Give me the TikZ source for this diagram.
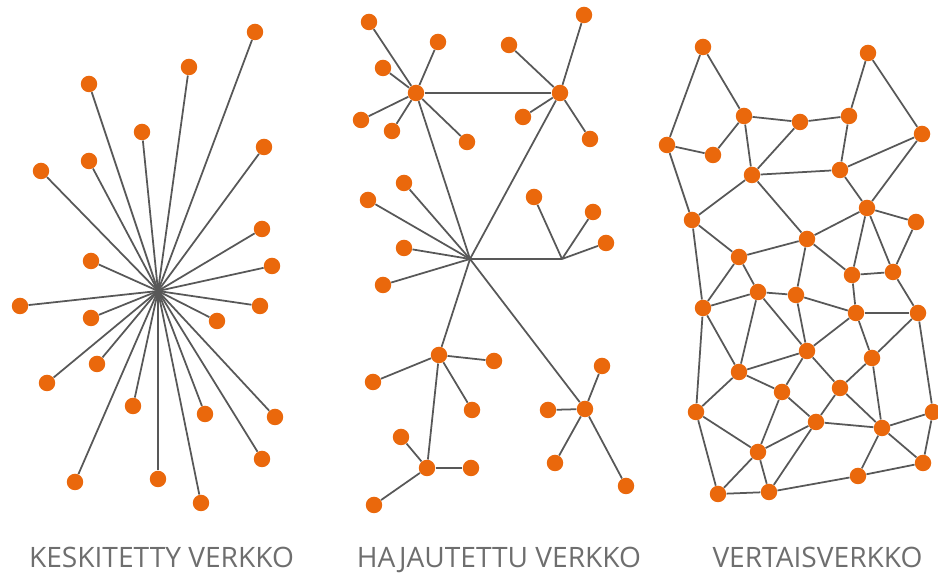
\documentclass[tikz,border=0pt]{standalone}
\usepackage{fontspec}
\setmainfont{Open Sans}
\definecolor{netorange}{RGB}{234,104,12}
\definecolor{netgray}{RGB}{88,88,88}
\definecolor{capgray}{RGB}{110,110,110}
\tikzset{
  netdot/.style={circle,fill=netorange,inner sep=0pt,minimum size=0.33cm},
  netline/.style={draw=netgray,line width=1pt},
  netlabel/.style={anchor=base,inner sep=0pt,text=capgray,
    font=\fontsize{16}{16}\selectfont}
}
\begin{document}
\begin{tikzpicture}[x=0.02cm,y=-0.02cm]
  \useasboundingbox (0,0) rectangle (938,573);
  % star: every node hangs on the one hub
  \coordinate (hub) at (158,291);
  \foreach \n/\x/\y in {1/255/32,2/189/67,3/89/84,4/142/132,5/264/147,
      6/89/161,7/41/171,8/262/229,9/91/261,10/272/266,11/20/306,
      12/91/318,13/260/306,14/217/321,15/97/364,16/47/383,17/133/406,
      18/205/414,19/275/417,20/262/459,21/75/482,22/158/479,23/201/503} {
    \node[netdot] (c\n) at (\x,\y) {};
    \draw[netline] (hub) -- (c\n);
  }
  % tree of small stars
  \node[netdot] (hA) at (416,93) {};
  \node[netdot] (hB) at (560,93) {};
  \coordinate (hC) at (470,259);
  \coordinate (hD) at (562,259);
  \node[netdot] (hE) at (439,355) {};
  \node[netdot] (hF) at (427,468) {};
  \node[netdot] (hG) at (585,409) {};
  \foreach \a/\b in {hA/hB,hA/hC,hB/hC,hC/hD,hC/hE,hE/hF,hC/hG}
    \draw[netline] (\a) -- (\b);
  \foreach \h/\n/\x/\y in {A/1/369/22,A/2/438/42,A/3/383/68,A/4/361/120,
      A/5/392/131,A/6/467/142,B/7/584/15,B/8/509/45,B/9/523/117,
      B/10/590/139,C/11/404/183,C/12/368/200,C/13/404/248,C/14/383/285,
      D/15/534/197,D/16/593/212,D/17/606/243,E/18/494/361,E/19/373/382,
      E/20/472/410,F/21/401/437,F/22/471/468,F/23/374/505,G/24/602/366,
      G/25/548/410,G/26/555/463,G/27/626/486} {
    \node[netdot] (l\n) at (\x,\y) {};
    \draw[netline] (h\h) -- (l\n);
  }
  % mesh
  \foreach \n/\x/\y in {1/703/47,2/868/53,3/744/116,4/800/122,5/849/116,
      6/922/134,7/667/145,8/713/155,9/752/175,10/840/170,11/692/220,
      12/867/208,13/916/222,14/807/239,15/739/257,16/852/275,17/893/272,
      18/758/292,19/796/295,20/703/308,21/856/313,22/918/313,23/807/351,
      24/872/358,25/739/372,26/782/392,27/840/388,28/696/412,29/933/412,
      30/816/422,31/882/428,32/758/452,33/923/463,34/858/476,35/718/494,
      36/769/492}
    \node[netdot] (p\n) at (\x,\y) {};
  \foreach \a/\b in {1/7,1/3,2/5,2/6,3/4,4/5,3/8,7/8,3/9,4/9,5/10,9/10,
      10/6,7/11,9/11,6/12,10/12,9/14,12/14,12/13,11/15,14/15,12/16,12/17,
      13/17,14/19,14/16,11/20,15/20,15/18,16/17,18/19,20/18,16/21,17/22,
      19/21,21/22,18/23,19/23,21/23,21/24,22/24,20/25,18/25,25/23,20/28,
      25/26,23/26,23/27,24/27,24/31,22/29,25/28,26/30,27/30,27/31,26/32,
      28/32,30/32,30/31,31/29,31/33,29/33,31/34,28/35,32/35,32/36,30/36,
      35/36,36/34,34/33}
    \draw[netline] (p\a) -- (p\b);
  % captions
  \node[netlabel] (capA) at (161.5,568) {KESKITETTY VERKKO};
  \node[netlabel] (capB) at (499,568) {HAJAUTETTU VERKKO};
  \node[netlabel] (capC) at (817.5,568) {VERTAISVERKKO};
\end{tikzpicture}
\end{document}
